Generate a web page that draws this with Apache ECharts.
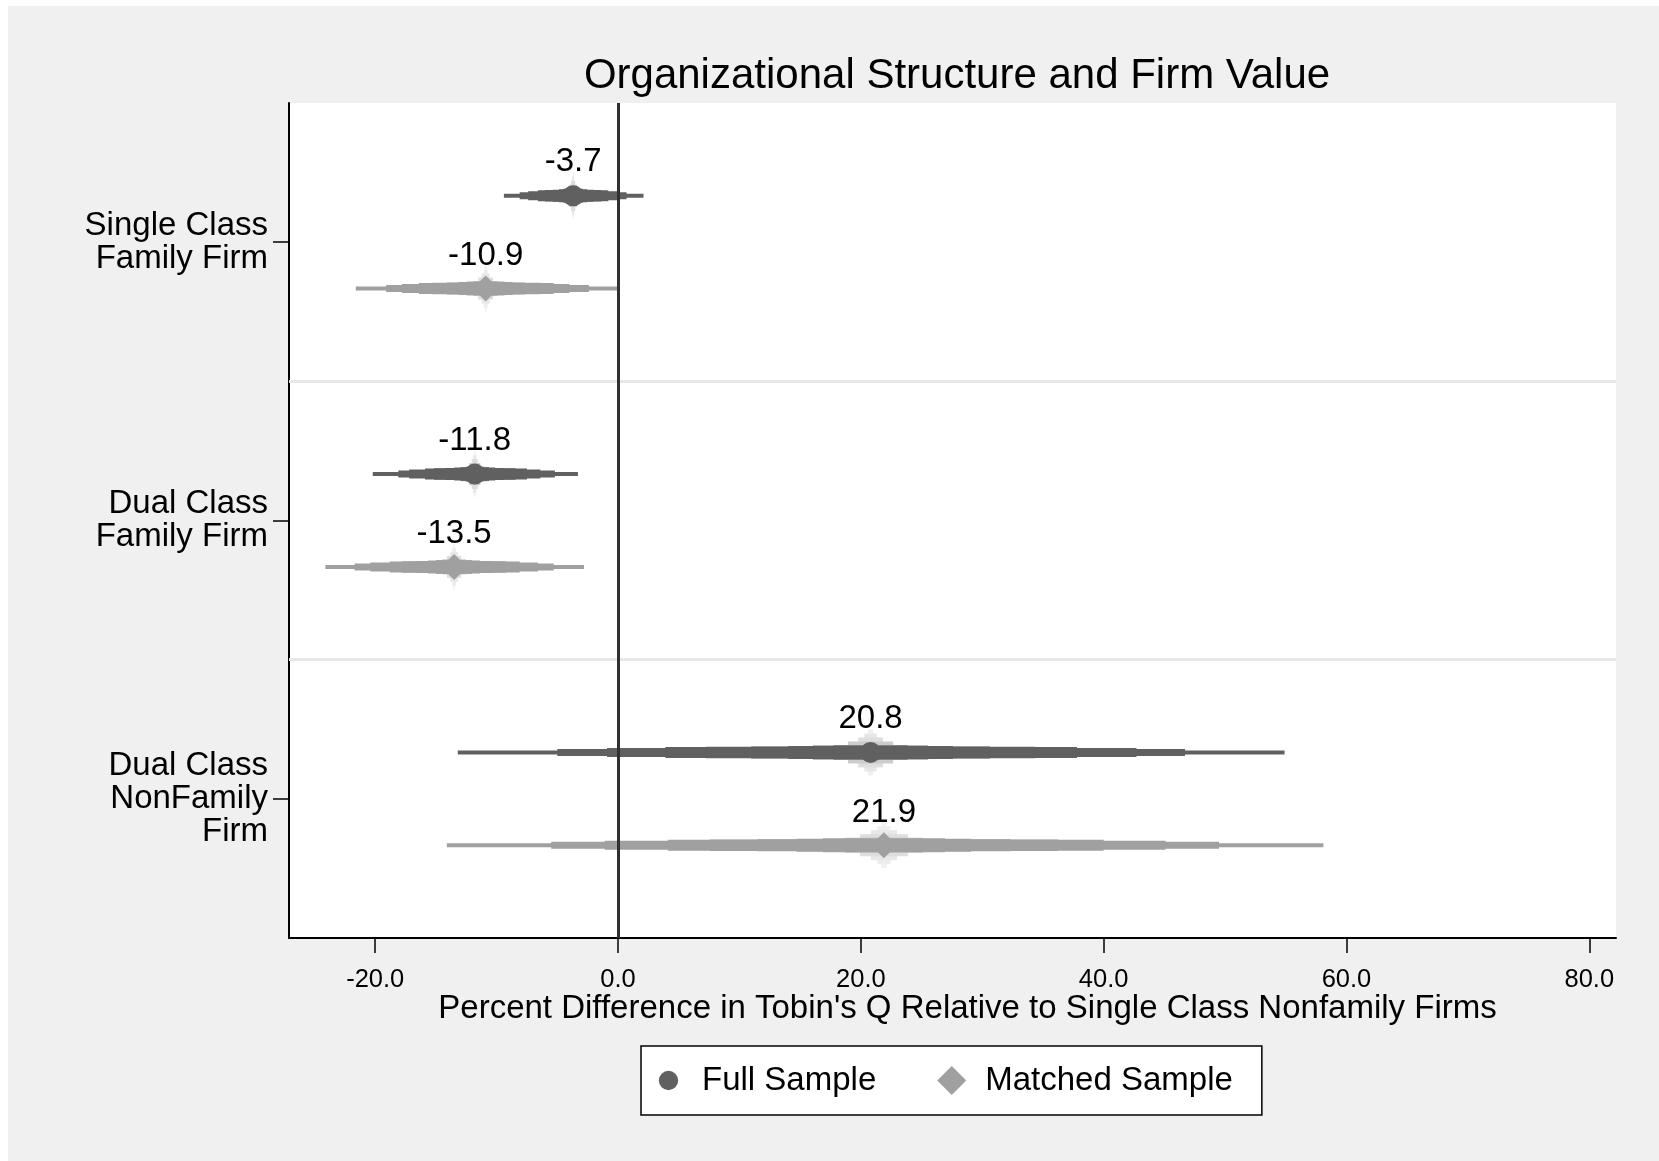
<!DOCTYPE html>
<html>
<head>
<meta charset="utf-8">
<title>Organizational Structure and Firm Value</title>
<script src="https://cdn.jsdelivr.net/npm/echarts@6/dist/echarts.min.js"></script>
<style>
  html, body { margin: 0; padding: 0; background: #ffffff; }
  #chart { position: absolute; left: 8px; top: 6px; width: 1651px; height: 1155px; }
</style>
</head>
<body>
<div id="chart"></div>
<script>
// Groups on the vertical axis (top to bottom)
const categories = ['Single Class\nFamily Firm', 'Dual Class\nFamily Firm', 'Dual Class\nNonFamily\nFirm'];
const seriesNames = ['Full Sample', 'Matched Sample'];

// Point estimates (percent difference in Tobin's Q)
const fullEst = [-3.7, -11.8, 20.8];
const matchedEst = [-10.9, -13.5, 21.9];

// Confidence bounds [low, high] at 99 / 95 / 90 / 80 percent
const fullCI99 = [[-9.4, 2.1], [-20.2, -3.3], [-13.2, 54.9]];
const fullCI95 = [[-8.1, 0.7], [-18.1, -5.2], [-5.0, 46.7]];
const fullCI90 = [[-7.4, 0.0], [-17.2, -6.4], [-0.9, 42.7]];
const fullCI80 = [[-6.6, -0.8], [-15.9, -7.5], [3.9, 37.8]];

const matchedCI99 = [[-21.6, 0.0], [-24.1, -2.8], [-14.1, 58.1]];
const matchedCI95 = [[-19.1, -2.4], [-21.7, -5.3], [-5.5, 49.5]];
const matchedCI90 = [[-17.8, -4.0], [-20.4, -6.6], [-1.1, 45.1]];
const matchedCI80 = [[-16.4, -5.3], [-18.8, -8.1], [4.1, 40.0]];

// x-axis tick values
const xTicks = [-20, 0, 20, 40, 60, 80];

// ---- styling ----
const FONT = "'Liberation Sans', Arial, Helvetica, sans-serif";
const DARK = '#606060';
const LIGHT = '#a0a0a0';
const HALO = '#f6f6f6';
const ROW_OFFSET = 1 / 6;           // vertical shift of each sample within its group
const CI_WIDTHS = [4, 7, 9, 11];    // line widths for 99, 95, 90, 80 percent bands
// Inner graduated bands near the estimate: share of the 80% half-width, height, fade
const INNER = [
  { frac: 0.012, h: 46, fade: 0.95 },
  { frac: 0.03, h: 38, fade: 0.9 },
  { frac: 0.06, h: 30, fade: 0.84 },
  { frac: 0.11, h: 22, fade: 0.72 },
  { frac: 0.18, h: 15, fade: 0.35 },
  { frac: 0.28, h: 14, fade: 0.1 },
  { frac: 0.4, h: 13, fade: 0 },
  { frac: 0.58, h: 12, fade: 0 },
  { frac: 0.8, h: 11.5, fade: 0 }
];

function mix(c1, c2, t) {
  const a = parseInt(c1.slice(1), 16), b = parseInt(c2.slice(1), 16);
  const ch = (v, s) => (v >> s) & 255;
  const m = s => Math.round(ch(a, s) + (ch(b, s) - ch(a, s)) * t);
  return 'rgb(' + m(16) + ',' + m(8) + ',' + m(0) + ')';
}

function ciRows(est, c99, c95, c90, c80, shift) {
  return est.map((e, i) => [i + 1 + shift, e,
    c99[i][0], c99[i][1], c95[i][0], c95[i][1],
    c90[i][0], c90[i][1], c80[i][0], c80[i][1]]);
}

function renderCI(color) {
  return function (params, api) {
    const y = api.value(0);
    const est = api.value(1);
    const children = [];
    const c = api.coord([est, y]);
    const lo80 = api.coord([api.value(8), y])[0];
    const hi80 = api.coord([api.value(9), y])[0];
    const half80 = (hi80 - lo80) / 2;
    // soft inner bands, tallest and palest first
    INNER.forEach(b => {
      const hw = Math.max(b.frac * half80, 0.6);
      children.push({
        type: 'rect',
        shape: { x: c[0] - hw, y: c[1] - b.h / 2, width: hw * 2, height: b.h },
        style: { fill: mix(color, HALO, b.fade) }
      });
    });
    // 80, 90, 95, 99 percent bands
    for (let k = 3; k >= 0; k--) {
      const p0 = api.coord([api.value(2 + 2 * k), y]);
      const p1 = api.coord([api.value(3 + 2 * k), y]);
      const w = CI_WIDTHS[k];
      children.push({
        type: 'rect',
        shape: { x: p0[0], y: p0[1] - w / 2, width: p1[0] - p0[0], height: w },
        style: { fill: color }
      });
    }
    return { type: 'group', children: children };
  };
}

const chart = echarts.init(document.getElementById('chart'), null, { renderer: 'canvas' });

// circle icon padded inside a 30x30 box so it reads smaller than the diamond
const legendCircle = 'path://M0,0M30,30M5,15A10,10,0,1,1,25,15A10,10,0,1,1,5,15Z';

chart.setOption({
  backgroundColor: '#f0f0f0',
  animation: false,
  textStyle: { fontFamily: FONT },
  title: {
    text: 'Organizational Structure and Firm Value',
    left: 944,
    top: 44,
    textAlign: 'center',
    textStyle: { fontFamily: FONT, fontSize: 42, fontWeight: 'normal', color: '#000' }
  },
  grid: {
    left: 281, top: 97, right: 43, bottom: 223,
    show: true, backgroundColor: '#ffffff', borderWidth: 0
  },
  legend: {
    data: [
      { name: seriesNames[0], icon: legendCircle },
      { name: seriesNames[1], icon: 'diamond' }
    ],
    left: 633, top: 1040,
    orient: 'horizontal',
    padding: [18, 29, 18, 13],
    itemWidth: 29, itemHeight: 29, itemGap: 61,
    backgroundColor: '#ffffff', borderColor: '#000000', borderWidth: 1.5,
    selectedMode: false,
    textStyle: { fontFamily: FONT, fontSize: 33, color: '#000', padding: [0, 0, 0, 14] }
  },
  xAxis: {
    type: 'value',
    min: -27.1, max: 82.2,
    name: "Percent Difference in Tobin's Q Relative to Single Class Nonfamily Firms",
    nameLocation: 'middle',
    nameGap: 54,
    nameMoveOverlap: false,
    nameTextStyle: { fontFamily: FONT, fontSize: 33, color: '#000', padding: [0, 0, 0, 30] },
    axisLine: { show: true, onZero: false, lineStyle: { color: '#000', width: 2 } },
    axisTick: { show: true, customValues: xTicks, length: 15, lineStyle: { color: '#000', width: 1.5 } },
    axisLabel: {
      customValues: xTicks, margin: 29,
      fontFamily: FONT, fontSize: 25.5, color: '#000',
      formatter: v => v.toFixed(1)
    },
    splitLine: { show: false }
  },
  yAxis: [
    {
      type: 'category',
      data: categories,
      inverse: true,
      boundaryGap: true,
      axisLine: { show: true, onZero: false, lineStyle: { color: '#000', width: 2 } },
      axisTick: { show: true, alignWithLabel: true, length: 16, lineStyle: { color: '#000', width: 1.5 } },
      axisLabel: {
        margin: 21, fontFamily: FONT, fontSize: 33, lineHeight: 33, color: '#000', align: 'right'
      },
      splitLine: { show: false }
    },
    {
      type: 'value', min: 0.5, max: 3.5, inverse: true, show: false,
      splitLine: { show: false }
    }
  ],
  series: [
    {
      name: 'Full Sample CI',
      type: 'custom',
      yAxisIndex: 1,
      z: 2,
      renderItem: renderCI(DARK),
      encode: { x: [1, 2, 3], y: 0 },
      data: ciRows(fullEst, fullCI99, fullCI95, fullCI90, fullCI80, -ROW_OFFSET),
      markLine: {
        silent: true, symbol: 'none', z: 5,
        label: { show: false },
        lineStyle: { color: '#303030', width: 3, type: 'solid' },
        data: [{ xAxis: 0 }]
      }
    },
    {
      name: 'Matched Sample CI',
      type: 'custom',
      yAxisIndex: 1,
      z: 2,
      renderItem: renderCI(LIGHT),
      encode: { x: [1, 2, 3], y: 0 },
      data: ciRows(matchedEst, matchedCI99, matchedCI95, matchedCI90, matchedCI80, ROW_OFFSET),
      markLine: {
        silent: true, symbol: 'none', z: 1,
        label: { show: false },
        lineStyle: { color: '#e8e8e8', width: 3, type: 'solid' },
        data: [{ yAxis: 1.5 }, { yAxis: 2.5 }]
      }
    },
    {
      name: seriesNames[0],
      type: 'scatter',
      yAxisIndex: 1,
      zlevel: 1,
      z: 10,
      symbol: 'circle',
      symbolSize: 21,
      itemStyle: { color: DARK, opacity: 1 },
      label: {
        show: true, position: 'top', distance: 6.5,
        fontFamily: FONT, fontSize: 33, color: '#000',
        formatter: p => p.value[0].toFixed(1)
      },
      data: fullEst.map((e, i) => [e, i + 1 - ROW_OFFSET])
    },
    {
      name: seriesNames[1],
      type: 'scatter',
      yAxisIndex: 1,
      zlevel: 1,
      z: 10,
      symbol: 'diamond',
      symbolSize: 26,
      itemStyle: { color: LIGHT, opacity: 1 },
      label: {
        show: true, position: 'top', distance: 3,
        fontFamily: FONT, fontSize: 33, color: '#000',
        formatter: p => p.value[0].toFixed(1)
      },
      data: matchedEst.map((e, i) => [e, i + 1 + ROW_OFFSET])
    }
  ]
});
</script>
</body>
</html>
